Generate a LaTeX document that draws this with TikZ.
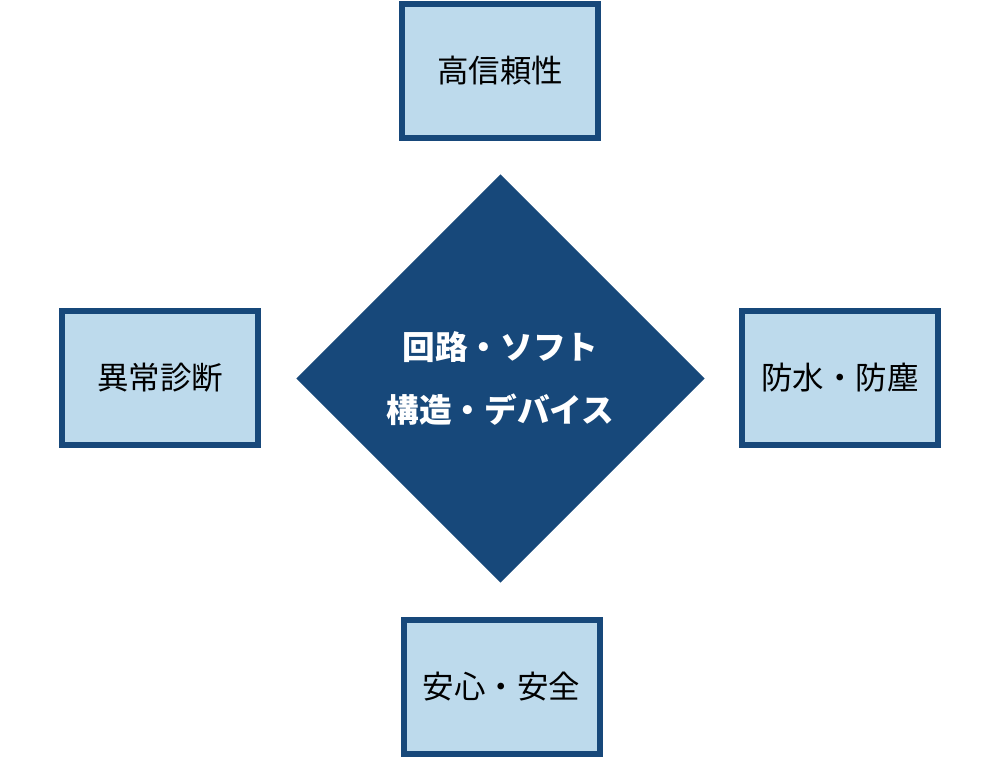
\documentclass[tikz,border=0pt]{standalone}
\usepackage{fontspec}
\setmainfont{Noto Sans CJK JP}
\usetikzlibrary{shapes.geometric}
\definecolor{darkblue}{HTML}{17487A}
\definecolor{lightblue}{HTML}{BDDAEC}
\begin{document}
\begin{tikzpicture}[x=0.75pt,y=-0.75pt,
  topicbox/.style={draw=darkblue,fill=lightblue,line width=4.5pt,
    minimum width=147pt,minimum height=100.5pt,inner sep=0pt,
    font=\fontsize{23.6pt}{28pt}\selectfont,text=black},
  core/.style={shape=diamond,fill=darkblue,draw=none,aspect=1,
    minimum width=306.5pt,minimum height=306.5pt,inner sep=0pt,
    align=center,text=white,
    font=\fontsize{24.5pt}{47pt}\selectfont\bfseries}]
\useasboundingbox (0,0) rectangle (1000,757);
\node[core] (center) at (500.5,378.5) {回路・ソフト\\構造・デバイス};
\node[topicbox] (top) at (500,71) {高信頼性};
\node[topicbox] (left) at (160,378) {異常診断};
\node[topicbox] (right) at (840,378) {防水・防塵};
\node[topicbox] (bottom) at (501.5,687) {安心・安全};
\end{tikzpicture}
\end{document}
